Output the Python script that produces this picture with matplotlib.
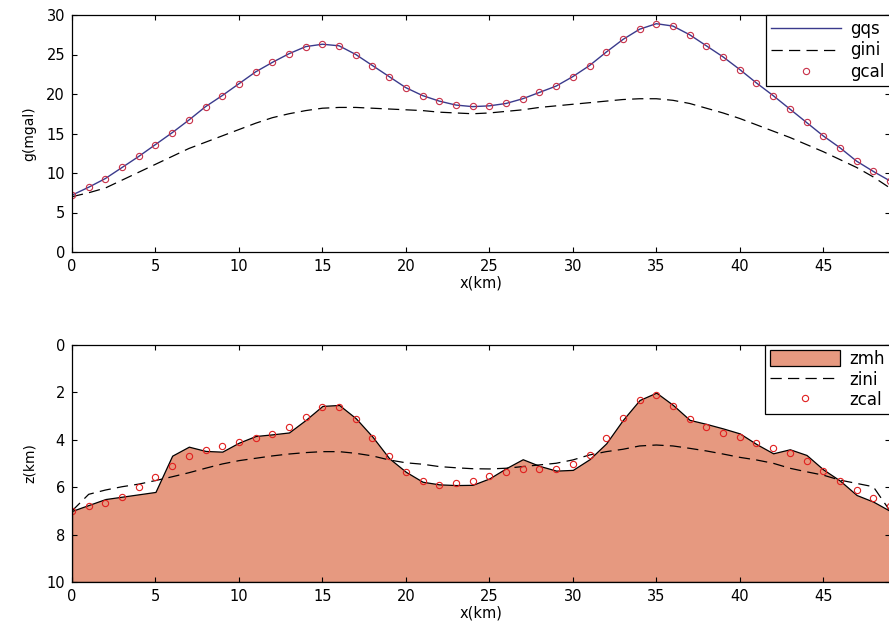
import matplotlib
matplotlib.use('Agg')
import matplotlib.pyplot as plt
import numpy as np

plt.rcParams['font.family'] = ['DejaVu Sans']

# profile positions (km)
x = np.arange(50)

# gravity (mgal)
gqs = [7.2, 8.2, 9.3, 10.7, 12.1, 13.6, 15.1, 16.7, 18.4, 19.8,
       21.3, 22.8, 24.0, 25.1, 26.0, 26.3, 26.1, 25.0, 23.6, 22.2,
       20.8, 19.8, 19.1, 18.6, 18.4, 18.5, 18.8, 19.4, 20.2, 21.0,
       22.2, 23.6, 25.3, 26.9, 28.2, 28.9, 28.6, 27.5, 26.1, 24.7,
       23.1, 21.4, 19.8, 18.1, 16.4, 14.7, 13.2, 11.5, 10.2, 9.0]
gini = [7.0, 7.5, 8.1, 9.1, 10.1, 11.1, 12.1, 13.1, 13.9, 14.7,
        15.5, 16.3, 17.0, 17.5, 17.9, 18.2, 18.3, 18.3, 18.2, 18.1,
        18.0, 17.9, 17.7, 17.6, 17.5, 17.6, 17.8, 18.0, 18.3, 18.5,
        18.7, 18.9, 19.1, 19.3, 19.4, 19.4, 19.2, 18.8, 18.2, 17.6,
        16.9, 16.1, 15.3, 14.5, 13.6, 12.7, 11.7, 10.7, 9.5, 8.1]
gcal = [7.2, 8.2, 9.3, 10.7, 12.1, 13.6, 15.1, 16.7, 18.4, 19.8,
        21.3, 22.8, 24.0, 25.1, 26.0, 26.3, 26.1, 25.0, 23.6, 22.2,
        20.8, 19.8, 19.1, 18.6, 18.5, 18.5, 18.8, 19.4, 20.2, 21.0,
        22.2, 23.6, 25.3, 26.9, 28.2, 28.9, 28.6, 27.5, 26.1, 24.7,
        23.1, 21.4, 19.8, 18.1, 16.4, 14.7, 13.2, 11.5, 10.2, 9.0]

# depth (km)
zmh = [7.0, 6.75, 6.5, 6.4, 6.3, 6.2, 4.67, 4.29, 4.47, 4.5,
       4.12, 3.84, 3.77, 3.69, 3.16, 2.57, 2.53, 3.09, 3.87, 4.78,
       5.35, 5.77, 5.88, 5.91, 5.9, 5.63, 5.2, 4.82, 5.1, 5.3,
       5.27, 4.82, 4.15, 3.16, 2.32, 2.01, 2.53, 3.16, 3.33, 3.52,
       3.73, 4.18, 4.57, 4.4, 4.64, 5.25, 5.72, 6.33, 6.61, 7.0]
zini = [7.0, 6.3, 6.12, 5.98, 5.87, 5.72, 5.56, 5.39, 5.2, 5.02,
        4.88, 4.78, 4.68, 4.6, 4.54, 4.5, 4.5, 4.57, 4.68, 4.85,
        4.97, 5.03, 5.13, 5.18, 5.22, 5.23, 5.2, 5.13, 5.06, 4.99,
        4.85, 4.64, 4.5, 4.4, 4.26, 4.22, 4.26, 4.36, 4.47, 4.6,
        4.74, 4.85, 4.99, 5.2, 5.35, 5.49, 5.7, 5.84, 5.98, 7.0]
zcal = [7.0, 6.79, 6.65, 6.43, 6.0, 5.56, 5.09, 4.68, 4.43, 4.26,
        4.09, 3.94, 3.76, 3.47, 3.02, 2.63, 2.63, 3.11, 3.91, 4.68,
        5.35, 5.72, 5.91, 5.84, 5.72, 5.53, 5.35, 5.23, 5.23, 5.25,
        5.02, 4.64, 3.94, 3.09, 2.32, 2.11, 2.57, 3.12, 3.47, 3.7,
        3.9, 4.12, 4.33, 4.57, 4.88, 5.3, 5.74, 6.12, 6.47, 6.8]

W, H = 889, 625
fig = plt.figure(figsize=(W/100., H/100.), dpi=100)

def px_axes(left, top, right, bottom):
    return fig.add_axes([left/W, 1-bottom/H, (right-left)/W, (bottom-top)/H])

def style(ax):
    ax.tick_params(direction='in', top=True, right=True, length=3.5,
                   width=0.8, labelsize=10.5, pad=5)
    for s in ax.spines.values():
        s.set_linewidth(0.9)

# top panel: gravity
a = px_axes(72, 15, 890, 252)
a.plot(x, gqs, '-', color='#3a3a8c', lw=1.0, label='gqs')
a.plot(x, gini, '--', color='k', lw=0.9, dashes=(9, 5), label='gini')
a.plot(x, gcal, 'o', mfc='none', mec='#c83048', ms=4.5, mew=0.8, label='gcal')
a.set_xlim(0, 49)
a.set_ylim(0, 30)
a.set_xticks(range(0, 50, 5))
a.set_yticks(range(0, 31, 5))
a.set_xlabel('x(km)', fontsize=10.5, labelpad=1)
a.set_ylabel('g(mgal)', fontsize=10, labelpad=7)
style(a)
leg = a.legend(loc='upper left', bbox_to_anchor=((766-72)/818., 1.0),
               borderaxespad=0, fancybox=False, edgecolor='k', framealpha=1,
               fontsize=12, handlelength=4.2, handletextpad=0.55,
               labelspacing=0.2, borderpad=0.3)
leg.get_frame().set_linewidth(0.9)

# bottom panel: depth
b = px_axes(72, 345, 890, 582)
b.fill_between(x, zmh, 10, facecolor=(0.9, 0.6, 0.5), edgecolor='k',
               linewidth=0.9, label='zmh')
b.plot(x, zini, '--', color='k', lw=0.9, dashes=(9, 5), label='zini')
b.plot(x, zcal, 'o', mfc='none', mec='#e02020', ms=4.5, mew=0.8, label='zcal')
b.set_xlim(0, 49)
b.set_ylim(10, 0)
b.set_xticks(range(0, 50, 5))
b.set_yticks(range(0, 11, 2))
b.set_xlabel('x(km)', fontsize=10.5, labelpad=1)
b.set_ylabel('z(km)', fontsize=10, labelpad=7)
style(b)
leg2 = b.legend(loc='upper left', bbox_to_anchor=((765-72)/818., 1.0),
                borderaxespad=0, fancybox=False, edgecolor='k', framealpha=1,
                fontsize=12, handlelength=4.2, handletextpad=0.55,
                handleheight=1.1, labelspacing=0.15, borderpad=0.3)
leg2.get_frame().set_linewidth(0.9)

plt.savefig('out.png', dpi=100)
